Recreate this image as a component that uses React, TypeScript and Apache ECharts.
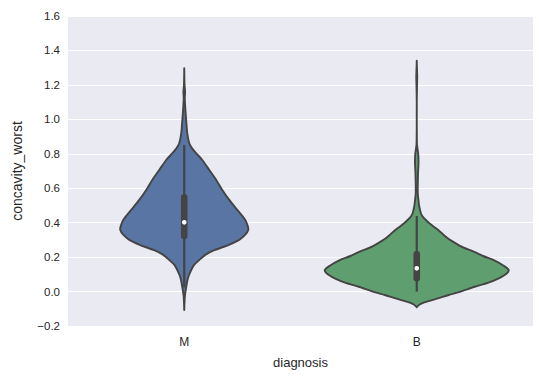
import React, { useEffect, useRef } from 'react';
import * as echarts from 'echarts';

const categories = ['M', 'B'];
const yMin = -0.2;
const yMax = 1.6;
const yStep = 0.2;

// Kernel density profiles (value, relative half-width; 1 = widest violin)
const mProfileValues = [-0.107, -0.06, -0.02, 0.038, 0.067, 0.096, 0.125, 0.154, 0.183, 0.213, 0.24, 0.27, 0.3, 0.33, 0.358, 0.38, 0.416, 0.474, 0.532, 0.59, 0.648, 0.706, 0.764, 0.803, 0.83, 0.861, 0.92, 0.987, 1.05, 1.12, 1.16, 1.2, 1.25, 1.297];
const mProfileDensity = [0, 0.003, 0.008, 0.025, 0.035, 0.051, 0.075, 0.104, 0.161, 0.226, 0.323, 0.473, 0.591, 0.656, 0.688, 0.683, 0.656, 0.57, 0.484, 0.409, 0.344, 0.269, 0.194, 0.129, 0.086, 0.054, 0.032, 0.022, 0.013, 0.006, 0.009, 0.003, 0.001, 0];

const bProfileValues = [-0.091, -0.075, -0.059, -0.04, -0.02, 0.0, 0.028, 0.05, 0.077, 0.1, 0.125, 0.15, 0.183, 0.205, 0.232, 0.255, 0.28, 0.305, 0.329, 0.355, 0.377, 0.4, 0.426, 0.45, 0.474, 0.5, 0.532, 0.57, 0.62, 0.69, 0.75, 0.8, 0.85, 0.9, 1.0, 1.1, 1.2, 1.25, 1.3, 1.341];
const bProfileDensity = [0, 0.032, 0.108, 0.226, 0.344, 0.473, 0.624, 0.763, 0.882, 0.957, 0.989, 0.935, 0.828, 0.72, 0.613, 0.505, 0.419, 0.344, 0.29, 0.237, 0.183, 0.129, 0.078, 0.048, 0.035, 0.025, 0.018, 0.011, 0.011, 0.014, 0.019, 0.016, 0.003, 0.001, 0, 0, 0.003, 0.005, 0.002, 0];

// Box stats: [lower whisker, q1, median, q3, upper whisker]
const mBox = [0.024, 0.304, 0.402, 0.567, 0.851];
const bBox = [0.0, 0.058, 0.135, 0.236, 0.439];

const fillColors = ['#5875a4', '#5f9e6e'];
const lineColor = '#444444';
const textColor = '#262626';

const profiles = [
  { values: mProfileValues, density: mProfileDensity, box: mBox },
  { values: bProfileValues, density: bProfileDensity, box: bBox },
];

export default function App() {
  const ref = useRef<HTMLDivElement>(null);
  useEffect(() => {
    if (!ref.current) return;
    const chart = echarts.init(ref.current, null, { renderer: 'svg' });
    const fmt = (v: number) => v.toFixed(1).replace('-', '\u2212');
    chart.setOption({
      animation: false,
      grid: {
        left: 68,
        right: 10,
        top: 16,
        bottom: 55,
        show: true,
        backgroundColor: '#EAEAF2',
        borderWidth: 0,
      },
      xAxis: {
        type: 'category',
        data: categories,
        name: 'diagnosis',
        nameLocation: 'middle',
        nameGap: 30,
        nameTextStyle: { fontFamily: 'Liberation Sans', fontSize: 13, color: textColor },
        axisLine: { show: false },
        axisTick: { show: false },
        axisLabel: { fontFamily: 'Liberation Sans', fontSize: 12, color: textColor, margin: 10 },
        splitLine: { show: false },
      },
      yAxis: {
        type: 'value',
        min: yMin,
        max: yMax,
        interval: yStep,
        name: 'concavity_worst',
        nameLocation: 'middle',
        nameGap: 44,
        nameTextStyle: { fontFamily: 'Liberation Sans', fontSize: 14, color: textColor },
        axisLine: { show: false },
        axisTick: { show: false },
        axisLabel: { fontFamily: 'Liberation Sans', fontSize: 11.5, color: textColor, margin: 8, formatter: fmt },
        splitLine: { show: true, lineStyle: { color: '#ffffff', width: 1.2 } },
      },
      series: [
        {
          type: 'custom',
          coordinateSystem: 'cartesian2d',
          data: profiles.map((p, i) => [i, p.box[2]]),
          renderItem: (params: any, api: any) => {
            const i = api.value(0);
            const p = profiles[i];
            const band = api.size([1, 0])[0];
            const maxHalf = band * 0.4;
            const cx = api.coord([i, 0])[0];
            const right = p.values.map((v, k) => [cx + p.density[k] * maxHalf, api.coord([i, v])[1]]);
            const left = p.values.map((v, k) => [cx - p.density[k] * maxHalf, api.coord([i, v])[1]]).reverse();
            const yw0 = api.coord([i, p.box[0]])[1];
            const yq1 = api.coord([i, p.box[1]])[1];
            const ymed = api.coord([i, p.box[2]])[1];
            const yq3 = api.coord([i, p.box[3]])[1];
            const yw1 = api.coord([i, p.box[4]])[1];
            const boxW = 6.6;
            const outline = { stroke: lineColor, lineWidth: 1.9, lineJoin: 'round', fill: fillColors[i] };
            return {
              type: 'group',
              children: [
                {
                  type: 'polygon',
                  shape: { points: right.concat(left), smooth: 0.25 },
                  style: outline,
                },
                {
                  type: 'line',
                  shape: { x1: cx, y1: yw0, x2: cx, y2: yw1 },
                  style: { stroke: lineColor, lineWidth: 2.2 },
                },
                {
                  type: 'rect',
                  shape: { x: cx - boxW / 2, y: yq3, width: boxW, height: yq1 - yq3, r: boxW / 2 },
                  style: { fill: lineColor },
                },
                {
                  type: 'circle',
                  shape: { cx: cx, cy: ymed, r: 2.3 },
                  style: { fill: '#ffffff' },
                },
              ],
            };
          },
        },
      ],
    });
    return () => chart.dispose();
  }, []);
  return <div ref={ref} style={{ position: 'absolute', left: 0, top: 0, width: 543, height: 381 }} />;
}
